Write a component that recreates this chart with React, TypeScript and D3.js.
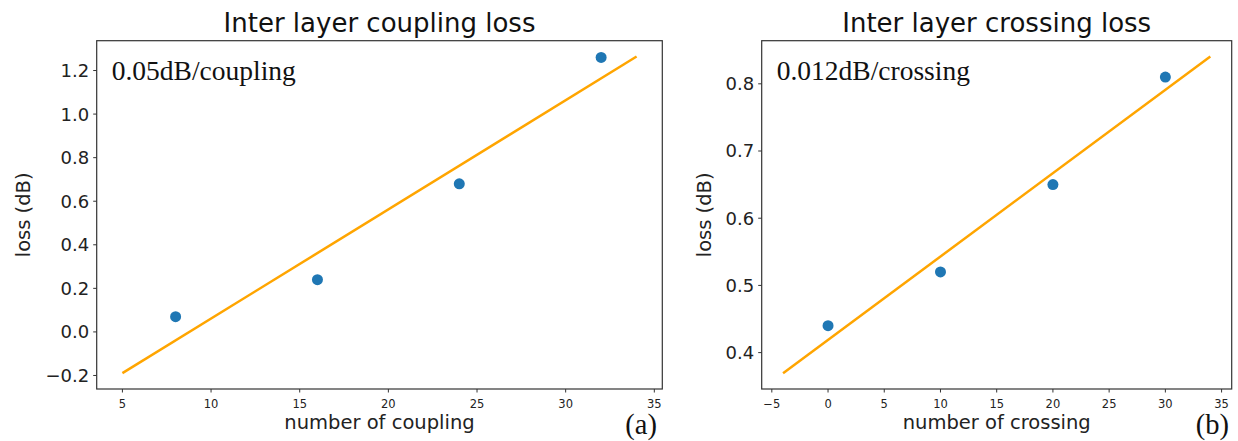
import React from "react";
import * as d3 from "d3";

// Measured loss vs. number of inter-layer couplings
const couplingCount = [8, 16, 24, 32];
const couplingLoss = [0.07, 0.24, 0.68, 1.26];
const couplingFitRange = [5, 34];
const couplingXTicks = [5, 10, 15, 20, 25, 30, 35];
const couplingYTicks = [-0.2, 0, 0.2, 0.4, 0.6, 0.8, 1.0, 1.2];

// Measured loss vs. number of inter-layer crossings
const crossingCount = [0, 10, 20, 30];
const crossingLoss = [0.44, 0.52, 0.65, 0.81];
const crossingFitRange = [-4, 34];
const crossingXTicks = [-5, 0, 5, 10, 15, 20, 25, 30, 35];
const crossingYTicks = [0.4, 0.5, 0.6, 0.7, 0.8];

const W = 1238;
const H = 441;
const SANS = "'DejaVu Sans', sans-serif";
const SERIF = "'Liberation Serif', 'Times New Roman', serif";
const BLUE = "#1f77b4";
const ORANGE = "#ffa500";

function linearFit(xs: number[], ys: number[]) {
  const mx = d3.mean(xs)!;
  const my = d3.mean(ys)!;
  let num = 0;
  let den = 0;
  xs.forEach((x, i) => {
    num += (x - mx) * (ys[i] - my);
    den += (x - mx) * (x - mx);
  });
  const slope = num / den;
  return { slope, intercept: my - slope * mx };
}

// matplotlib-style 5% autoscale margin
function padded(lo: number, hi: number) {
  const m = (hi - lo) * 0.05;
  return [lo - m, hi + m];
}

const fmtTick = (v: number, decimals: number) => {
  const s = v.toFixed(decimals);
  return s.startsWith("-") ? "\u2212" + s.slice(1) : s;
};

type PanelProps = {
  left: number;
  right: number;
  top: number;
  bottom: number;
  xs: number[];
  ys: number[];
  fitRange: number[];
  xTicks: number[];
  yTicks: number[];
  yDecimals: number;
  title: string;
  xLabel: string;
  note: string;
  tag: string;
  yLabelX: number;
  tagRight: number;
};

function Panel(p: PanelProps) {
  const fit = linearFit(p.xs, p.ys);
  const fx0 = p.fitRange[0];
  const fx1 = p.fitRange[1];
  const fy0 = fit.intercept + fit.slope * fx0;
  const fy1 = fit.intercept + fit.slope * fx1;
  const xDom = padded(fx0, fx1);
  const yDom = padded(
    Math.min(fy0, fy1, ...p.ys),
    Math.max(fy0, fy1, ...p.ys)
  );
  const x = d3.scaleLinear().domain(xDom).range([p.left, p.right]);
  const y = d3.scaleLinear().domain(yDom).range([p.bottom, p.top]);
  const line = d3.line<number>()
    .x((v) => x(v))
    .y((v) => y(fit.intercept + fit.slope * v));
  const tickLen = 3.5;
  const cx = (p.left + p.right) / 2;
  const cy = (p.top + p.bottom) / 2;

  return (
    <g>
      <text x={cx} y={32} textAnchor="middle" fontFamily={SANS} fontSize={26} fill="#111">
        {p.title}
      </text>
      <path d={line([fx0, fx1]) || ""} fill="none" stroke={ORANGE} strokeWidth={2.5} />
      {p.xs.map((v, i) => (
        <circle key={i} cx={x(v)} cy={y(p.ys[i])} r={5.5} fill={BLUE} />
      ))}
      <rect
        x={p.left}
        y={p.top}
        width={p.right - p.left}
        height={p.bottom - p.top}
        fill="none"
        stroke="#333"
        strokeWidth={1.2}
      />
      {p.xTicks.map((t) => (
        <g key={"x" + t}>
          <line x1={x(t)} x2={x(t)} y1={p.bottom} y2={p.bottom + tickLen} stroke="#333" strokeWidth={1} />
          <text x={x(t)} y={408} textAnchor="middle" fontFamily={SANS} fontSize={11.5} fill="#222">
            {fmtTick(t, 0)}
          </text>
        </g>
      ))}
      {p.yTicks.map((t) => (
        <g key={"y" + t}>
          <line x1={p.left - tickLen} x2={p.left} y1={y(t)} y2={y(t)} stroke="#333" strokeWidth={1} />
          <text
            x={p.left - 7.5}
            y={y(t)}
            dy="0.36em"
            textAnchor="end"
            fontFamily={SANS}
            fontSize={18}
            fill="#222"
          >
            {fmtTick(t, p.yDecimals)}
          </text>
        </g>
      ))}
      <text x={cx} y={429} textAnchor="middle" fontFamily={SANS} fontSize={19.5} fill="#222">
        {p.xLabel}
      </text>
      <text
        transform={`translate(${p.yLabelX},${cy}) rotate(-90)`}
        textAnchor="middle"
        dy="0.36em"
        fontFamily={SANS}
        fontSize={19.5}
        fill="#222"
      >
        loss (dB)
      </text>
      <text x={p.left + 15} y={80} fontFamily={SERIF} fontSize={27.5} fill="#111">
        {p.note}
      </text>
      <text x={p.tagRight} y={434} textAnchor="end" fontFamily={SERIF} fontSize={28.5} fill="#111">
        {p.tag}
      </text>
    </g>
  );
}

export default function App() {
  return (
    <svg
      width={W}
      height={H}
      viewBox={`0 0 ${W} ${H}`}
      style={{ position: "absolute", left: 0, top: 0, background: "#fff" }}
    >
      <rect x={0} y={0} width={W} height={H} fill="#fff" />
      <Panel
        left={96.7}
        right={662.3}
        top={40.7}
        bottom={389}
        xs={couplingCount}
        ys={couplingLoss}
        fitRange={couplingFitRange}
        xTicks={couplingXTicks}
        yTicks={couplingYTicks}
        yDecimals={1}
        title="Inter layer coupling loss"
        xLabel="number of coupling"
        note="0.05dB/coupling"
        tag="(a)"
        yLabelX={23}
        tagRight={657}
      />
      <Panel
        left={761.7}
        right={1231.7}
        top={40.7}
        bottom={389}
        xs={crossingCount}
        ys={crossingLoss}
        fitRange={crossingFitRange}
        xTicks={crossingXTicks}
        yTicks={crossingYTicks}
        yDecimals={1}
        title="Inter layer crossing loss"
        xLabel="number of crossing"
        note="0.012dB/crossing"
        tag="(b)"
        yLabelX={704}
        tagRight={1229}
      />
    </svg>
  );
}
